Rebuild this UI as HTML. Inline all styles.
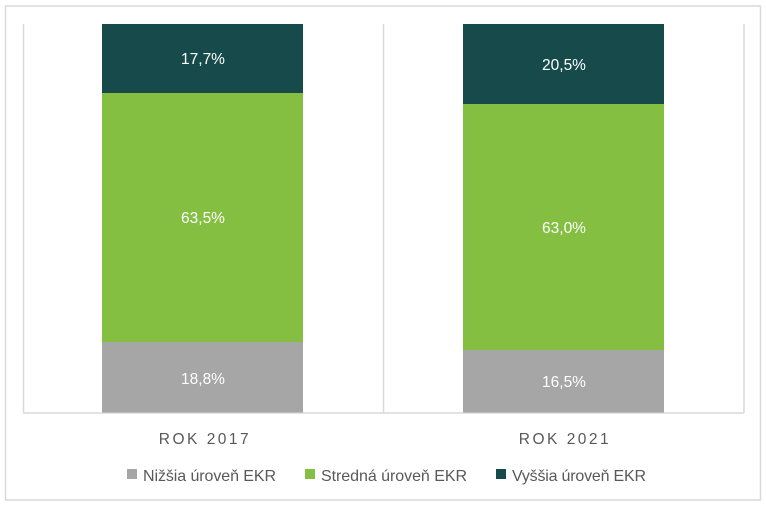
<!DOCTYPE html>
<html><head><style>
body{margin:0;background:#fff;}
svg{display:block;font-family:"Liberation Sans",sans-serif;}
</style></head><body>
<svg width="766" height="506" xmlns="http://www.w3.org/2000/svg">
<rect x="5.5" y="6" width="755" height="494" fill="#fff" stroke="#d9d9d9" stroke-width="1.5"/>
<g stroke="#d9d9d9" stroke-width="1.5" fill="none">
<line x1="23.5" y1="24" x2="23.5" y2="413"/>
<line x1="383.5" y1="24" x2="383.5" y2="413"/>
<line x1="744" y1="24" x2="744" y2="413"/>
<line x1="23" y1="413" x2="744" y2="413"/>
</g>
<rect x="102" y="24" width="201" height="69" fill="#174b4b"/>
<rect x="102" y="93" width="201" height="249" fill="#84bf41"/>
<rect x="102" y="342" width="201" height="70.5" fill="#a6a6a6"/>
<rect x="463" y="24" width="201" height="80" fill="#174b4b"/>
<rect x="463" y="104" width="201" height="246" fill="#84bf41"/>
<rect x="463" y="350" width="201" height="62.5" fill="#a6a6a6"/>
<g fill="#fff" font-size="15.5" text-anchor="middle">
<text x="203" y="64">17,7%</text>
<text x="203" y="223">63,5%</text>
<text x="203" y="384">18,8%</text>
<text x="564" y="70">20,5%</text>
<text x="564" y="233">63,0%</text>
<text x="564" y="387">16,5%</text>
</g>
<g fill="#595959" font-size="15.5" text-anchor="middle" letter-spacing="2.5">
<text x="205" y="444">ROK 2017</text>
<text x="565" y="444">ROK 2021</text>
</g>
<g font-size="16" fill="#595959">
<rect x="127" y="469" width="10" height="10" fill="#a6a6a6"/>
<text x="143" y="481" textLength="133">Nižšia úroveň EKR</text>
<rect x="305" y="469" width="10" height="10" fill="#84bf41"/>
<text x="321" y="481" textLength="146">Stredná úroveň EKR</text>
<rect x="496" y="469" width="10" height="10" fill="#174b4b"/>
<text x="512" y="481" textLength="134">Vyššia úroveň EKR</text>
</g>
</svg>
</body></html>
